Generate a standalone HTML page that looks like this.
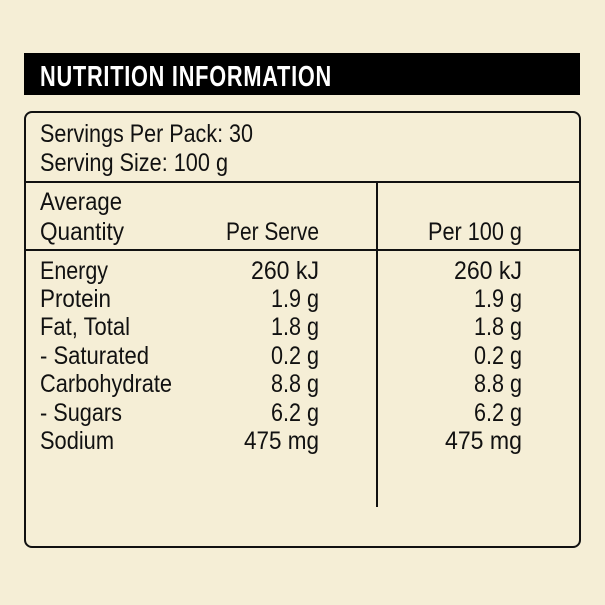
<!DOCTYPE html>
<html><head><style>
html,body{margin:0;padding:0;background:#f5eed6;}
svg{display:block}
text{font-family:"Liberation Sans Narrow","Liberation Sans",sans-serif;font-size:25px;fill:#111;}
.r{text-anchor:end}
</style></head><body>
<svg width="605" height="605" viewBox="0 0 605 605">
<rect width="605" height="605" fill="#f5eed6"/>
<rect x="24" y="53" width="556" height="42" fill="#000"/>
<text x="40" y="86" style="font-weight:bold;font-size:29px;fill:#fff;letter-spacing:1px" textLength="292" lengthAdjust="spacingAndGlyphs">NUTRITION INFORMATION</text>
<rect x="25" y="112" width="555" height="435" rx="7" fill="none" stroke="#111" stroke-width="2"/>
<line x1="25" y1="182" x2="580" y2="182" stroke="#111" stroke-width="2"/>
<line x1="25" y1="250" x2="580" y2="250" stroke="#111" stroke-width="2"/>
<line x1="377" y1="182" x2="377" y2="507" stroke="#111" stroke-width="2"/>
<text x="40" y="142" textLength="213" lengthAdjust="spacingAndGlyphs">Servings Per Pack: 30</text>
<text x="40" y="171" textLength="188" lengthAdjust="spacingAndGlyphs">Serving Size: 100 g</text>
<text x="40" y="210" textLength="82" lengthAdjust="spacingAndGlyphs">Average</text>
<text x="40" y="240" textLength="84" lengthAdjust="spacingAndGlyphs">Quantity</text>
<text x="319" y="240" class="r" textLength="93" lengthAdjust="spacingAndGlyphs">Per Serve</text>
<text x="522" y="240" class="r" textLength="94" lengthAdjust="spacingAndGlyphs">Per 100 g</text>
<g>
<text x="40" y="279" textLength="68" lengthAdjust="spacingAndGlyphs">Energy</text><text x="319" y="279" class="r" textLength="68" lengthAdjust="spacingAndGlyphs">260 kJ</text><text x="522" y="279" class="r" textLength="68" lengthAdjust="spacingAndGlyphs">260 kJ</text>
<text x="40" y="307" textLength="71" lengthAdjust="spacingAndGlyphs">Protein</text><text x="319" y="307" class="r" textLength="48" lengthAdjust="spacingAndGlyphs">1.9 g</text><text x="522" y="307" class="r" textLength="48" lengthAdjust="spacingAndGlyphs">1.9 g</text>
<text x="40" y="335" textLength="90" lengthAdjust="spacingAndGlyphs">Fat, Total</text><text x="319" y="335" class="r" textLength="48" lengthAdjust="spacingAndGlyphs">1.8 g</text><text x="522" y="335" class="r" textLength="48" lengthAdjust="spacingAndGlyphs">1.8 g</text>
<text x="40" y="364" textLength="109" lengthAdjust="spacingAndGlyphs">- Saturated</text><text x="319" y="364" class="r" textLength="48" lengthAdjust="spacingAndGlyphs">0.2 g</text><text x="522" y="364" class="r" textLength="48" lengthAdjust="spacingAndGlyphs">0.2 g</text>
<text x="40" y="392" textLength="132" lengthAdjust="spacingAndGlyphs">Carbohydrate</text><text x="319" y="392" class="r" textLength="48" lengthAdjust="spacingAndGlyphs">8.8 g</text><text x="522" y="392" class="r" textLength="48" lengthAdjust="spacingAndGlyphs">8.8 g</text>
<text x="40" y="421" textLength="82" lengthAdjust="spacingAndGlyphs">- Sugars</text><text x="319" y="421" class="r" textLength="48" lengthAdjust="spacingAndGlyphs">6.2 g</text><text x="522" y="421" class="r" textLength="48" lengthAdjust="spacingAndGlyphs">6.2 g</text>
<text x="40" y="449" textLength="74" lengthAdjust="spacingAndGlyphs">Sodium</text><text x="319" y="449" class="r" textLength="75" lengthAdjust="spacingAndGlyphs">475 mg</text><text x="522" y="449" class="r" textLength="77" lengthAdjust="spacingAndGlyphs">475 mg</text>
</g>
</svg>
</body></html>
